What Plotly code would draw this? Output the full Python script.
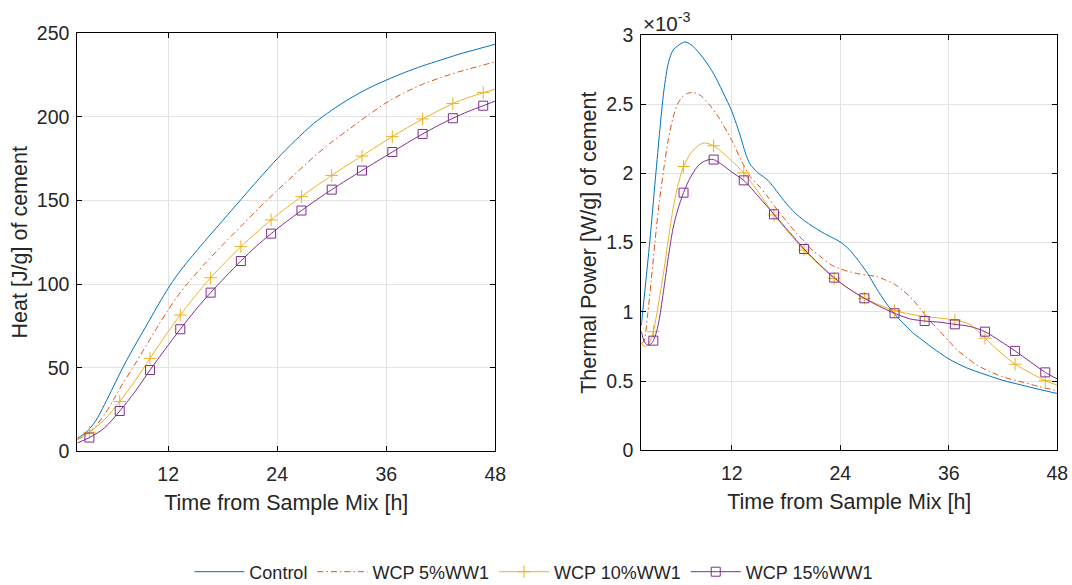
import plotly.graph_objects as go

# ---------------- data ----------------
SERIES = ["Control", "WCP 5%WW1", "WCP 10%WW1", "WCP 15%WW1"]
MARK_TIMES = [3.33, 6.67, 10, 13.33, 16.67, 20, 23.33, 26.67, 30, 33.33, 36.67, 40, 43.33, 46.67]

# Heat [J/g] (left)
t_heat_ctrl = [2, 3, 4, 5, 6, 7, 8, 9, 10, 11, 12, 13, 14, 16, 18, 20, 22, 24, 26, 28, 30, 32, 34, 36, 38, 40, 42, 44, 46, 48]
heat_ctrl = [7.8, 11.5, 18, 28, 39, 50, 60, 69.5, 79, 88.5, 97.5, 105.5, 112.5, 125.5, 138, 150.5, 163, 175, 186, 196, 204, 211, 217, 222, 226.5, 230.5, 234, 237.5, 240.5, 243.5]
t_heat_5 = [2, 3, 4, 5, 6, 7, 8, 9, 10, 11, 12, 13, 14, 16, 18, 20, 22, 24, 26, 28, 30, 32, 34, 36, 38, 40, 42, 44, 46, 48]
heat_5 = [7, 10, 15, 22, 31, 40.5, 49, 58, 67, 76, 84.5, 92.5, 99.5, 112, 123.5, 134.5, 145.5, 156, 166, 176, 185, 193, 201, 208.5, 214.5, 219.5, 223.5, 227, 230, 233]
t_heat_10 = [2, 3.33, 5, 6.67, 8.33, 10, 11.67, 13.33, 15, 16.67, 18.33, 20, 21.67, 23.33, 25, 26.67, 28.33, 30, 31.67, 33.33, 35, 36.67, 38.33, 40, 41.67, 43.33, 45, 46.67, 48]
heat_10 = [7, 11.4, 19, 29.8, 42, 55.6, 69, 81.5, 93, 103.8, 113.3, 122.4, 130.6, 138.4, 145.6, 152.3, 158.8, 165, 171, 176.6, 182.5, 188.2, 193.6, 198.8, 203.5, 208, 211.5, 214.5, 216.5]
t_heat_15 = [2, 3.33, 5, 6.67, 8.33, 10, 11.67, 13.33, 15, 16.67, 18.33, 20, 21.67, 23.33, 25, 26.67, 28.33, 30, 31.67, 33.33, 35, 36.67, 38.33, 40, 41.67, 43.33, 45, 46.67, 48]
heat_15 = [5, 8.2, 14, 24.1, 35.5, 48.6, 61, 73, 84.5, 94.9, 104.5, 113.8, 122.5, 130.2, 137.3, 144, 150.4, 156.5, 162.3, 167.9, 173.5, 179, 184.5, 189.8, 194.7, 199.2, 203.2, 206.7, 209.5]

# Thermal power [x1e-3 W/g] (right)
t_pow_ctrl = [2, 2.5, 3, 3.5, 4, 4.5, 5, 5.5, 6, 6.8, 7.5, 8, 9, 10, 11, 12, 13, 13.5, 14, 14.5, 15, 16, 17, 18, 19, 20, 21, 22, 23, 24, 25, 26, 27, 28, 29, 30, 31, 32, 33, 34, 36, 38, 40, 42, 44, 46, 48]
pow_ctrl = [0.90, 1.22, 1.55, 1.92, 2.28, 2.60, 2.80, 2.89, 2.92, 2.95, 2.93, 2.90, 2.82, 2.72, 2.59, 2.45, 2.26, 2.15, 2.07, 2.03, 2.0, 1.95, 1.87, 1.785, 1.715, 1.66, 1.615, 1.575, 1.54, 1.505, 1.45, 1.37, 1.28, 1.17, 1.07, 0.985, 0.915, 0.85, 0.80, 0.75, 0.66, 0.595, 0.548, 0.505, 0.472, 0.44, 0.41]
t_pow_5 = [2, 2.3, 2.7, 3.1, 3.5, 4, 4.5, 5, 5.5, 6, 6.5, 7, 7.7, 8.5, 9.5, 10.5, 12, 13, 14, 15, 16, 17, 18, 19, 20, 21, 22, 23, 24, 25, 26, 27, 28, 29, 30, 31, 32, 33, 34, 35, 36, 37, 38, 39, 40, 42, 44, 46, 48]
pow_5 = [0.77, 0.79, 0.98, 1.23, 1.50, 1.80, 2.04, 2.25, 2.40, 2.50, 2.55, 2.575, 2.585, 2.565, 2.50, 2.41, 2.24, 2.10, 1.98, 1.91, 1.83, 1.74, 1.66, 1.58, 1.51, 1.44, 1.39, 1.34, 1.31, 1.29, 1.275, 1.265, 1.255, 1.23, 1.20, 1.15, 1.09, 1.01, 0.93, 0.86, 0.79, 0.72, 0.67, 0.62, 0.585, 0.53, 0.495, 0.46, 0.43]
t_pow_10 = [2.0, 2.45, 3.0, 3.33, 3.7, 4.0, 4.5, 5.0, 5.5, 6.0, 6.67, 7.5, 8.5, 9.0, 10, 11, 12, 13.33, 15, 16.67, 18.33, 20, 21.67, 23.33, 25, 26.67, 28.33, 30, 31.67, 33.33, 35, 36.67, 38.33, 40, 41.67, 43.33, 45, 46.67, 48]
pow_10 = [0.77, 0.75, 0.79, 0.857, 0.98, 1.10, 1.30, 1.53, 1.74, 1.90, 2.05, 2.15, 2.21, 2.22, 2.20, 2.15, 2.09, 2.005, 1.86, 1.70, 1.57, 1.447, 1.34, 1.242, 1.165, 1.098, 1.05, 1.009, 0.985, 0.966, 0.955, 0.941, 0.91, 0.81, 0.71, 0.622, 0.56, 0.503, 0.47]
t_pow_15 = [2.0, 2.3, 2.65, 3.0, 3.33, 3.7, 4.0, 4.5, 5.0, 5.5, 6.0, 6.67, 7.5, 8.5, 9.5, 10, 11, 12, 13.33, 15, 16.67, 18.33, 20, 21.67, 23.33, 25, 26.67, 28.33, 30, 31.67, 33.33, 35, 36.67, 38.33, 40, 41.67, 43.33, 45, 46.67, 48]
pow_15 = [0.86, 0.79, 0.76, 0.765, 0.792, 0.86, 0.95, 1.17, 1.40, 1.60, 1.73, 1.861, 1.98, 2.07, 2.10, 2.10, 2.06, 2.01, 1.95, 1.83, 1.705, 1.58, 1.454, 1.345, 1.247, 1.165, 1.098, 1.04, 0.99, 0.95, 0.934, 0.925, 0.91, 0.895, 0.857, 0.79, 0.718, 0.64, 0.563, 0.515]

x_ticks = [12, 24, 36, 48]
heat_ticks = [0, 50, 100, 150, 200, 250]
pow_ticks = [0, 0.5, 1, 1.5, 2, 2.5, 3]
pow_tick_text = ["0", "0.5", "1", "1.5", "2", "2.5", "3"]

# ---------------- style ----------------
COLORS = ["#0072BD", "#D95319", "#EDB120", "#7E2F8E"]
DASH = ["solid", "6px,3px,1.5px,3px", "solid", "solid"]
SYMBOL = [None, None, "cross-thin", "square-open"]
FONT = "Liberation Sans, Arial, Helvetica, sans-serif"
TXT = "#262626"

fig = go.Figure()

def pick_marks(ts, vs):
    mx, my = [], []
    for t, v in zip(ts, vs):
        if any(abs(t - m) < 0.02 for m in MARK_TIMES):
            mx.append(t)
            my.append(v)
    return mx, my

heat_sets = [(t_heat_ctrl, heat_ctrl), (t_heat_5, heat_5), (t_heat_10, heat_10), (t_heat_15, heat_15)]
pow_sets = [(t_pow_ctrl, pow_ctrl), (t_pow_5, pow_5), (t_pow_10, pow_10), (t_pow_15, pow_15)]

for axes, sets in ((("x", "y"), heat_sets), (("x2", "y2"), pow_sets)):
    for i, (ts, vs) in enumerate(sets):
        fig.add_trace(go.Scatter(
            x=ts, y=vs, mode="lines", xaxis=axes[0], yaxis=axes[1],
            line=dict(color=COLORS[i], width=1, dash=DASH[i], shape="spline", smoothing=0.8),
            showlegend=False, hoverinfo="skip"))
        if SYMBOL[i]:
            mx, my = pick_marks(ts, vs)
            fig.add_trace(go.Scatter(
                x=mx, y=my, mode="markers", xaxis=axes[0], yaxis=axes[1],
                marker=dict(symbol=SYMBOL[i], size=9, color=COLORS[i],
                            line=dict(color=COLORS[i], width=1)),
                showlegend=False, hoverinfo="skip"))

# legend entries
for i, name in enumerate(SERIES):
    fig.add_trace(go.Scatter(
        x=[None], y=[None], name=name,
        mode="lines+markers" if SYMBOL[i] else "lines",
        line=dict(color=COLORS[i], width=1, dash=DASH[i]),
        marker=dict(symbol=SYMBOL[i] or "circle", size=9, color=COLORS[i],
                    line=dict(color=COLORS[i], width=1)),
        showlegend=True))

W, H = 1072, 585
def dx(a, b):
    return [a / W, b / W]
def dy(top, bot):
    return [1 - bot / H, 1 - top / H]

axis_common = dict(
    showline=True, linecolor="black", linewidth=1, mirror="ticks",
    ticks="inside", ticklen=5, tickcolor="black", tickwidth=1,
    showgrid=True, gridcolor="#e3e3e3", gridwidth=1, zeroline=False,
    automargin=False,
    tickfont=dict(family=FONT, size=19.5, color=TXT),
)
title_font = dict(size=21.5, family=FONT, color=TXT)

fig.update_layout(
    width=W, height=H, margin=dict(l=0, r=0, t=0, b=0, autoexpand=False),
    paper_bgcolor="white", plot_bgcolor="white",
    font=dict(family=FONT, color=TXT),
    xaxis=dict(domain=dx(77.3, 495.3), range=[2, 48], tickvals=x_ticks, anchor="y",
               ticklabelstandoff=5,
               title=dict(text="Time from Sample Mix [h]", font=title_font, standoff=11),
               **axis_common),
    yaxis=dict(domain=dy(33.3, 451.3), range=[0, 250], tickvals=heat_ticks, anchor="x",
               ticklabelstandoff=3,
               title=dict(text="Heat [J/g] of cement", font=title_font, standoff=3),
               **axis_common),
    xaxis2=dict(domain=dx(641.3, 1057.3), range=[2, 48], tickvals=x_ticks, anchor="y2",
                ticklabelstandoff=5,
                title=dict(text="Time from Sample Mix [h]", font=title_font, standoff=11),
                **axis_common),
    yaxis2=dict(domain=dy(35, 450.3), range=[0, 3], tickvals=pow_ticks, ticktext=pow_tick_text, anchor="x2",
                ticklabelstandoff=3,
                title=dict(text="Thermal Power [W/g] of cement", font=title_font, standoff=3),
                **axis_common),
    legend=dict(orientation="h", x=0.498, xanchor="center", y=1 - 572 / H, yanchor="middle",
                font=dict(family=FONT, size=18, color=TXT), bgcolor="rgba(0,0,0,0)",
                itemwidth=50, tracegroupgap=0),
    annotations=[dict(text="\u00d710<sup>-3</sup>", x=641 / W, y=1 - 22 / H, xref="paper", yref="paper",
                      xanchor="left", yanchor="middle", showarrow=False,
                      font=dict(family=FONT, size=20.5, color=TXT))],
)

fig.write_html("out.html")
